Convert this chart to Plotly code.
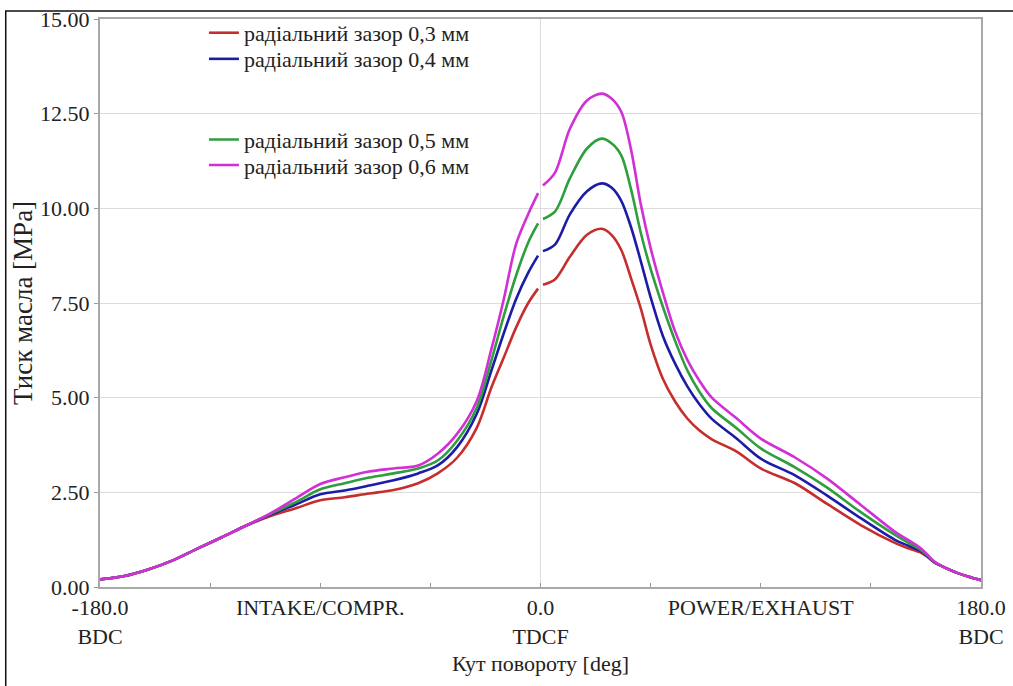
import plotly.graph_objects as go

# Crank angle, deg (None in the pressure series marks the break at TDC)
angle = [-180, -170, -160, -150, -140, -130, -120, -110, -100, -90, -80, -70, -60, -50,
         -42, -34, -26, -20, -15, -10, -5, -1, 0, 1, 6, 12, 19, 25, 29, 33, 37, 41, 45, 50,
         55, 60, 65, 70, 80, 90, 104, 117, 131, 145, 150, 155, 158, 161, 165, 170, 175, 180]

# Oil film pressure, MPa, for each radial clearance
p_03 = [0.20, 0.29, 0.47, 0.71, 1.02, 1.32, 1.63, 1.88, 2.08, 2.29, 2.37, 2.47, 2.56, 2.74,
        3.00, 3.42, 4.21, 5.28, 6.06, 6.85, 7.50, 7.88, None, 7.98, 8.13, 8.72, 9.30, 9.46,
        9.30, 8.90, 8.15, 7.35, 6.40, 5.50, 4.90, 4.45, 4.13, 3.90, 3.58, 3.13, 2.74, 2.20,
        1.63, 1.16, 1.03, 0.92, 0.80, 0.64, 0.52, 0.38, 0.27, 0.18]
p_04 = [0.20, 0.29, 0.47, 0.71, 1.02, 1.32, 1.63, 1.92, 2.18, 2.45, 2.55, 2.68, 2.82, 3.00,
        3.21, 3.70, 4.58, 5.73, 6.70, 7.60, 8.30, 8.75, None, 8.87, 9.05, 9.84, 10.45, 10.66,
        10.55, 10.20, 9.50, 8.60, 7.65, 6.63, 5.90, 5.30, 4.82, 4.44, 3.93, 3.39, 2.95, 2.42,
        1.81, 1.24, 1.10, 0.96, 0.82, 0.65, 0.52, 0.38, 0.27, 0.18]
p_05 = [0.20, 0.29, 0.47, 0.71, 1.02, 1.32, 1.63, 1.94, 2.24, 2.58, 2.74, 2.89, 3.00, 3.13,
        3.34, 3.87, 4.74, 6.00, 7.16, 8.22, 9.10, 9.60, None, 9.72, 9.92, 10.79, 11.58, 11.84,
        11.72, 11.40, 10.50, 9.35, 8.40, 7.40, 6.50, 5.72, 5.15, 4.72, 4.20, 3.66, 3.16, 2.63,
        1.97, 1.37, 1.18, 1.00, 0.84, 0.66, 0.52, 0.38, 0.27, 0.18]
p_06 = [0.20, 0.29, 0.47, 0.71, 1.02, 1.32, 1.63, 1.96, 2.34, 2.72, 2.90, 3.05, 3.13, 3.21,
        3.52, 4.05, 4.92, 6.30, 7.60, 9.05, 9.85, 10.40, None, 10.60, 10.95, 12.10, 12.85, 13.03,
        12.90, 12.55, 11.55, 10.10, 8.95, 7.78, 6.75, 6.00, 5.44, 5.00, 4.46, 3.92, 3.42, 2.87,
        2.16, 1.45, 1.25, 1.04, 0.86, 0.67, 0.52, 0.38, 0.27, 0.18]

series_names = ["радіальний зазор 0,3 мм", "радіальний зазор 0,4 мм",
                "радіальний зазор 0,5 мм", "радіальний зазор 0,6 мм"]
series_colors = ["#c62d2d", "#1c1ca6", "#2f9e3c", "#d22fd6"]
# each entry has its own legend box so the rows can be spaced like the original key
series_legends = ["legend", "legend2", "legend3", "legend4"]
legend_rows_y = [0.9755, 0.9295, 0.7875, 0.7425]

x_tick_vals = [-180, -90, 0, 90, 180]
x_tick_text = ["-180.0<br>BDC", "INTAKE/COMPR.", "0.0<br>TDCF", "POWER/EXHAUST", "180.0<br>BDC"]
y_tick_vals = [0, 2.5, 5, 7.5, 10, 12.5, 15]

FONT = "Times New Roman"
TEXT = "#222222"

fig = go.Figure()
for values, name, color, leg in zip([p_03, p_04, p_05, p_06], series_names,
                                    series_colors, series_legends):
    fig.add_trace(go.Scatter(
        x=angle, y=values, name=name, mode="lines",
        line=dict(color=color, width=2.6, shape="spline", smoothing=0.9),
        connectgaps=False, legend=leg,
    ))

legend_style = dict(
    bgcolor="rgba(0,0,0,0)", borderwidth=0,
    font=dict(family=FONT, size=22, color=TEXT),
    xanchor="left", yanchor="middle", tracegroupgap=0,
)
legends = {leg: dict(x=0.118, y=ly, **legend_style)
           for leg, ly in zip(series_legends, legend_rows_y)}

fig.update_layout(
    width=1013, height=686,
    margin=dict(l=100, r=32, t=17, b=99),
    paper_bgcolor="white", plot_bgcolor="white",
    font=dict(family=FONT, size=22, color=TEXT),
    showlegend=True,
    **legends,
    xaxis=dict(
        range=[-180, 180], tickvals=x_tick_vals, ticktext=x_tick_text,
        showgrid=False, zeroline=True, zerolinecolor="#dcdcdc", zerolinewidth=1,
        showline=True, linecolor="#a8a8a8", linewidth=2, mirror=True,
        ticks="inside", ticklen=4, tickcolor="#999",
        minor=dict(dtick=45, tick0=0, ticks="inside", ticklen=4, tickcolor="#999"),
        tickfont=dict(family=FONT, size=22, color=TEXT),
        title=dict(text="Кут повороту [deg]", font=dict(family=FONT, size=22, color=TEXT),
                   standoff=8),
        automargin=False, fixedrange=True,
    ),
    yaxis=dict(
        range=[0, 15], tickvals=y_tick_vals, tickformat=".2f",
        showgrid=True, gridcolor="#dcdcdc", gridwidth=1, zeroline=False,
        showline=True, linecolor="#a8a8a8", linewidth=2, mirror=True,
        ticks="outside", ticklen=4, tickcolor="#999",
        tickfont=dict(family=FONT, size=22, color=TEXT),
        title=dict(text="Тиск масла [MPa]", font=dict(family=FONT, size=27, color=TEXT),
                   standoff=0),
        automargin=False, fixedrange=True,
    ),
    shapes=[dict(type="rect", xref="paper", yref="paper",
                 x0=-0.107, x1=1.2, y0=-0.3, y1=1.014,
                 line=dict(color="#111", width=1.5), fillcolor="rgba(0,0,0,0)",
                 layer="below")],
)

fig.write_html("out.html")
